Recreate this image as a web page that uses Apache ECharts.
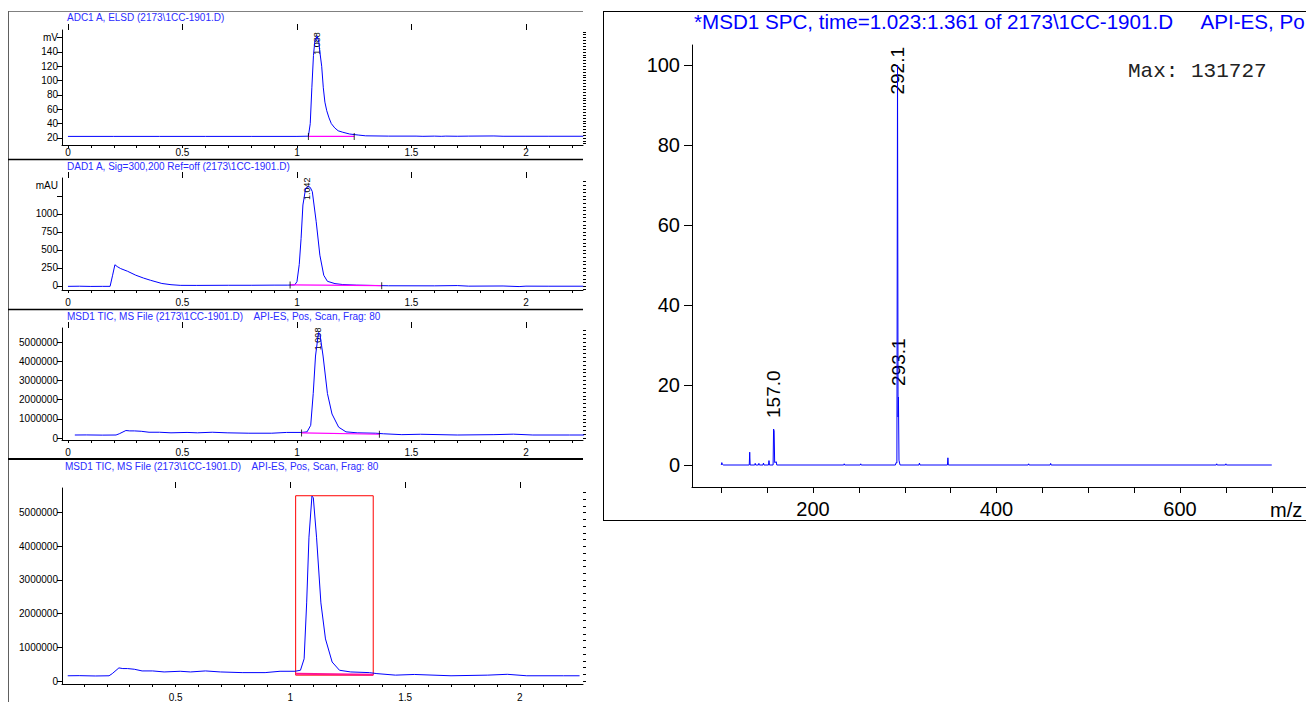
<!DOCTYPE html>
<html><head><meta charset="utf-8">
<script src="https://cdn.jsdelivr.net/npm/echarts@6/dist/echarts.min.js"></script>
<style>html,body{margin:0;padding:0;background:#fff}#c{width:1306px;height:702px}</style>
</head><body><div id="c"></div>
<script>
// ---------- DATA ----------
const ELSD_T = [0, 0.2, 0.4, 0.6, 0.8, 1.0, 1.05, 1.058, 1.065, 1.072, 1.078, 1.088, 1.095, 1.1, 1.108, 1.115, 1.122, 1.13, 1.14, 1.15, 1.165, 1.18, 1.2, 1.23, 1.27, 1.3, 1.4, 1.52, 1.55, 1.6, 1.63, 1.65, 1.7, 1.75, 1.86, 1.9, 2.0, 2.1, 2.25];
const ELSD_MV = [22.2, 22.2, 22.2, 22.2, 22.2, 22.2, 22.5, 40, 90, 135, 155, 162, 155, 140, 120, 90, 70, 58, 48, 40, 34, 30, 28, 25.5, 24, 23, 22.6, 22.6, 22.3, 22.6, 22.3, 22.6, 22.4, 22.6, 22.8, 22.4, 22.4, 22.4, 22.4];

const DAD_T = [0, 0.05, 0.1, 0.15, 0.184, 0.195, 0.205, 0.215, 0.23, 0.26, 0.296, 0.33, 0.36, 0.41, 0.45, 0.49, 0.56, 0.7, 0.8, 0.9, 0.96, 0.99, 1.0, 1.01, 1.018, 1.026, 1.038, 1.05, 1.058, 1.067, 1.084, 1.1, 1.117, 1.133, 1.166, 1.2, 1.26, 1.4, 1.6, 1.7, 1.75, 1.9, 1.97, 2.0, 2.1, 2.25];
const DAD_MAU = [-5, -3, -6, -5, -5, 150, 295, 270, 242, 205, 150, 110, 80, 35, 18, 9, 8, 10, 10, 12, 12, 15, 60, 300, 660, 1125, 1358, 1381, 1370, 1311, 893, 428, 149, 65, 33, 20, 12, 3, 2, 6, -2, 0, -8, -2, -3, -3];

const TIC_T = [0.03, 0.08, 0.15, 0.21, 0.224, 0.253, 0.27, 0.29, 0.32, 0.354, 0.4, 0.45, 0.52, 0.565, 0.63, 0.695, 0.79, 0.89, 0.955, 1.02, 1.044, 1.06, 1.071, 1.081, 1.094, 1.1, 1.114, 1.133, 1.153, 1.182, 1.214, 1.263, 1.344, 1.377, 1.458, 1.54, 1.7, 1.86, 1.945, 2.03, 2.19, 2.26];
const TIC_COUNTS = [156000, 160000, 150000, 156000, 220000, 390000, 370000, 370000, 350000, 300000, 300000, 270000, 290000, 270000, 300000, 270000, 250000, 250000, 290000, 290000, 320000, 660000, 2320000, 4270000, 5490000, 5440000, 4270000, 2320000, 1250000, 565000, 320000, 270000, 250000, 220000, 175000, 195000, 156000, 175000, 200000, 156000, 156000, 156000];

// integration baselines [t, value]
const ELSD_BASE = [[1.05, 22.2], [1.25, 22.2]];
const DAD_BASE = [[0.97, 15], [1.37, 5]];
const TIC_BASE = [[1.02, 265000], [1.36, 195000]];
const TIC_BASE_BIG = [[1.023, 215000], [1.361, 190000]];
const SPC_RANGE_T = [1.023, 1.361];
const SPC_RANGE_Y = [175000, 5500000];

const SPEC_MZ = [100, 100.6, 101.2, 102, 130.5, 131, 131.5, 136.5, 137, 137.5, 140.5, 141, 141.5, 145.5, 146, 146.5, 151.5, 152, 152.5, 156.5, 157, 157.6, 158.2, 160, 160.5, 233.5, 234, 234.5, 251.5, 252, 252.5, 289.8, 290.5, 291.4, 292.1, 292.7, 293.1, 293.7, 294.3, 294.9, 315.5, 316, 316.5, 346.5, 347, 347.5, 434.5, 435, 435.5, 458.5, 459, 459.5, 639.5, 640, 640.5, 649.5, 650, 650.5, 700];
const SPEC_INT = [0, 0.6, 0.2, 0, 0, 3.2, 0, 0, 0.4, 0, 0, 0.4, 0, 0, 0.5, 0, 0, 1.1, 0, 0, 9, 8.5, 0.6, 0.8, 0, 0, 0.3, 0, 0, 0.3, 0, 0, 0.6, 0.5, 100, 12, 17, 1.2, 0.5, 0, 0, 0.5, 0, 0, 1.8, 0, 0, 0.3, 0, 0, 0.4, 0, 0, 0.3, 0, 0, 0.3, 0, 0];

// tick labels
const X_LABELS_TOP = [0, 0.5, 1, 1.5, 2];
const X_LABELS_BIG = [0.5, 1, 1.5, 2];
const ELSD_Y_LABELS = [20, 40, 60, 80, 100, 120, 140, 160];
const DAD_Y_LABELS = [0, 250, 500, 750, 1000, 1400];
const TIC_Y_LABELS = [0, 1000000, 2000000, 3000000, 4000000, 5000000];
const SPEC_Y_LABELS = [0, 20, 40, 60, 80, 100];
const SPEC_X_LABELS = [200, 400, 600];

const PEAK_LABELS = [
  {axis: 0, x: 1.088, y: 162, text: '1.088'},
  {axis: 1, x: 1.042, y: 1381, text: '1.042'},
  {axis: 2, x: 1.094, y: 5490000, text: '1.098'},
  {axis: 4, x: 292.1, y: 100, text: '292.1'},
  {axis: 4, x: 293.1, y: 17, text: '293.1'},
  {axis: 4, x: 157.0, y: 9, text: '157.0'}
];

// ---------- STYLE / LAYOUT ----------
const FONT = '"Liberation Sans", Arial, sans-serif';
const BLUE = '#0000ff';
const TITLE_BLUE = '#2b2bff';
const LABEL_STYLE = [
  {size: 9, dy: -4, align: 'right'},
  {size: 9, dy: -9, align: 'right'},
  {size: 9, dy: -5, align: 'right'},
  {size: 19, dy: -18, align: 'right'},
  {size: 19, dy: -11, align: 'left'},
  {size: 19, dy: -11, align: 'left'}
];
const X_MARGIN = [2, 7, 7, 8, 12];

function range(a, b, s) { const r = []; for (let v = a; v <= b + s * 1e-6; v += s) r.push(Math.round(v * 1e6) / 1e6); return r; }
function zip(t, v) { return t.map((x, i) => [x, v[i]]); }

const GRIDS = [
  {left: 62, right: 723, top: 30, bottom: 557},
  {left: 62, right: 723, top: 178, bottom: 412},
  {left: 62, right: 723, top: 328, bottom: 262},
  {left: 62, right: 723, top: 488, bottom: 15},
  {left: 692, right: 0, top: 45, bottom: 215}
];
const XR = [[-0.026, 2.249], [-0.026, 2.249], [-0.026, 2.249], [0.005, 2.275], [68.1, 737.3]];
const YR = [[10.2, 170.6], [-55.6, 1500], [-104000, 5730000], [-88000, 5730000], [-5.5, 105]];

const Y_MAJOR = [range(20, 160, 20), range(0, 1250, 250), range(0, 5000000, 1000000), range(0, 5000000, 1000000), range(0, 100, 20)];
const Y_MINOR = [range(12, 168, 4), range(-50, 1450, 50), range(0, 5600000, 200000), range(0, 5600000, 200000), range(-5, 100, 5)];
const Y_LABELS = [ELSD_Y_LABELS, DAD_Y_LABELS, TIC_Y_LABELS, TIC_Y_LABELS, SPEC_Y_LABELS];
const Y_FMT = [v => v === 160 ? 'mV' : String(v), v => v === 1400 ? 'mAU' : String(v), v => String(v), v => String(v), v => String(v)];

const xAxes = [], yAxes = [];
for (let i = 0; i < 5; i++) {
  const spec = i === 4;
  xAxes.push({
    type: 'value', gridIndex: i, min: XR[i][0], max: XR[i][1],
    axisLine: {show: true, onZero: false, lineStyle: {color: '#000', width: 1}},
    axisTick: {show: true, customValues: spec ? range(100, 700, 50) : (i === 3 ? range(0.1, 2.2, 0.1) : range(0, 2.2, 0.1)), length: spec ? 6 : 3, lineStyle: {color: '#000'}},
    axisLabel: {customValues: spec ? SPEC_X_LABELS : (i === 3 ? X_LABELS_BIG : X_LABELS_TOP), color: '#000', fontFamily: FONT, fontSize: spec ? 20 : 10, margin: X_MARGIN[i]},
    splitLine: {show: false}
  });
  yAxes.push({
    type: 'value', gridIndex: i, min: YR[i][0], max: YR[i][1],
    axisLine: {show: true, onZero: false, lineStyle: {color: '#000', width: 1}},
    axisTick: {show: true, customValues: Y_MAJOR[i], length: spec ? 8 : 5, lineStyle: {color: '#000'}},
    axisLabel: {customValues: Y_LABELS[i], formatter: Y_FMT[i], color: '#000', fontFamily: FONT, fontSize: spec ? 20 : 10, margin: spec ? 12 : 4},
    splitLine: {show: false}
  });
}
// overlay axes: long x ticks at 0.5 multiples for chromatograms, minor y ticks for all
for (let i = 0; i < 4; i++) {
  xAxes.push({
    type: 'value', gridIndex: i, min: XR[i][0], max: XR[i][1],
    axisLine: {show: false, onZero: false},
    axisTick: {show: true, customValues: i === 3 ? X_LABELS_BIG : X_LABELS_TOP, length: 6, lineStyle: {color: '#000'}},
    axisLabel: {show: false}, splitLine: {show: false}
  });
}
for (let i = 0; i < 5; i++) {
  yAxes.push({
    type: 'value', gridIndex: i, min: YR[i][0], max: YR[i][1],
    axisLine: {show: false, onZero: false},
    axisTick: {show: true, customValues: Y_MINOR[i], length: i === 4 ? 4 : 3, lineStyle: {color: '#000'}},
    axisLabel: {show: false}, splitLine: {show: false}
  });
}

function line(ax, data, color, width, extra) {
  return Object.assign({type: 'line', xAxisIndex: ax, yAxisIndex: ax, data, showSymbol: false, symbol: 'none',
    lineStyle: {color, width}, animation: false, silent: true}, extra || {});
}
function ticks(ax, data) {
  return {type: 'scatter', xAxisIndex: ax, yAxisIndex: ax, data, symbol: 'rect', symbolSize: [1, 7],
    itemStyle: {color: '#000'}, animation: false, silent: true, z: 3};
}
const ticData = zip(TIC_T, TIC_COUNTS);
const series = [
  line(0, zip(ELSD_T, ELSD_MV), BLUE, 1),
  line(0, ELSD_BASE, '#ff00ff', 1.2),
  ticks(0, ELSD_BASE),
  line(1, zip(DAD_T, DAD_MAU), BLUE, 1),
  line(1, DAD_BASE, '#ff00ff', 1.2),
  ticks(1, DAD_BASE),
  line(2, ticData, BLUE, 1),
  line(2, TIC_BASE, '#ff00ff', 1.2),
  ticks(2, TIC_BASE),
  line(3, ticData, BLUE, 1, {markArea: {silent: true, itemStyle: {color: 'rgba(0,0,0,0)', borderColor: '#ff0000', borderWidth: 1},
    data: [[{xAxis: SPC_RANGE_T[0], yAxis: SPC_RANGE_Y[0]}, {xAxis: SPC_RANGE_T[1], yAxis: SPC_RANGE_Y[1]}]]}}),
  line(3, TIC_BASE_BIG, '#ff1493', 2),
  line(4, zip(SPEC_MZ, SPEC_INT), BLUE, 1)
];

const chart = echarts.init(document.getElementById('c'), null, {renderer: 'svg', width: 1306, height: 702});
chart.setOption({
  animation: false,
  backgroundColor: '#fff',
  grid: GRIDS,
  xAxis: xAxes,
  yAxis: yAxes,
  series
});

function txt(x, y, text, size, fill, family, extra) {
  return Object.assign({type: 'text', x, y, silent: true, style: {text, fontSize: size, fill, fontFamily: family || FONT, align: 'left', verticalAlign: 'top'}}, extra || {});
}
function hline(x1, x2, y, color, w) { return {type: 'line', silent: true, shape: {x1, y1: y, x2, y2: y}, style: {stroke: color, lineWidth: w}}; }
function vline(x, y1, y2, color, w) { return {type: 'line', silent: true, shape: {x1: x, y1, x2: x, y2}, style: {stroke: color, lineWidth: w}}; }

const elements = [
  hline(8, 583, 11.5, '#808080', 1),
  vline(8.5, 11, 702, '#606060', 1),
  hline(8, 583, 159.5, '#000', 1.5),
  hline(8, 583, 309.5, '#000', 1.5),
  hline(8, 583, 459, '#000', 2),
  vline(603.5, 11, 521, '#000', 1),
  hline(603, 1306, 11.5, '#000', 1),
  hline(603, 1306, 520.5, '#000', 1),
  txt(67, 12, 'ADC1 A, ELSD (2173\\1CC-1901.D)', 10, TITLE_BLUE),
  txt(67, 161, 'DAD1 A, Sig=300,200 Ref=off (2173\\1CC-1901.D)', 10, TITLE_BLUE),
  txt(67, 311, 'MSD1 TIC, MS File (2173\\1CC-1901.D)    API-ES, Pos, Scan, Frag: 80', 10, TITLE_BLUE),
  txt(65, 461, 'MSD1 TIC, MS File (2173\\1CC-1901.D)    API-ES, Pos, Scan, Frag: 80', 10, TITLE_BLUE),
  txt(694, 11, '*MSD1 SPC, time=1.023:1.361 of 2173\\1CC-1901.D     API-ES, Po', 20.6, BLUE),
  txt(1128, 61, 'Max: 131727', 21, '#222', '"Liberation Mono", "Courier New", monospace'),
  txt(1270, 500, 'm/z', 20, '#000')
];
PEAK_LABELS.forEach((p, k) => {
  const st = LABEL_STYLE[k];
  const pt = chart.convertToPixel({xAxisIndex: p.axis, yAxisIndex: p.axis}, [p.x, p.y]);
  elements.push({type: 'text', x: pt[0], y: pt[1] + st.dy, rotation: Math.PI / 2, silent: true,
    style: {text: p.text, fontSize: st.size, fill: '#000', fontFamily: FONT, align: st.align, verticalAlign: 'middle'}});
});
chart.setOption({graphic: {elements}});
</script>
</body></html>
